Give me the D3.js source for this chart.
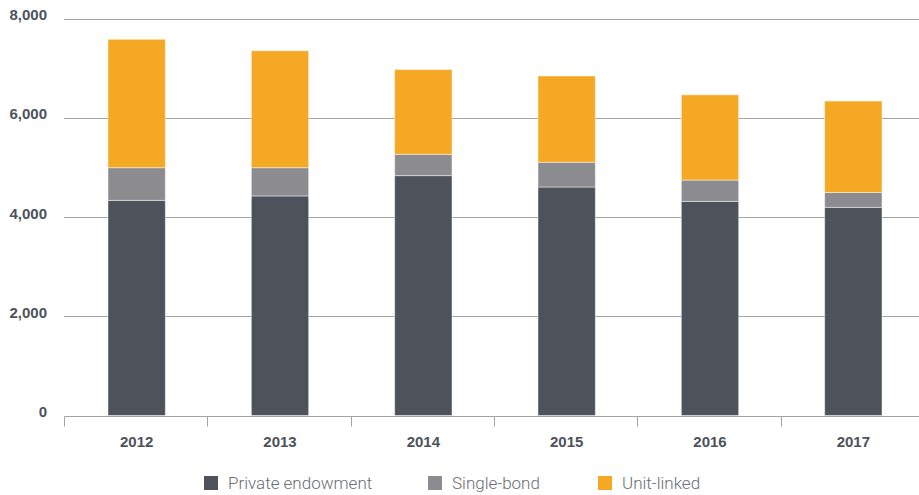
<!DOCTYPE html>
<html>
<head>
<meta charset="utf-8">
<script src="https://cdn.jsdelivr.net/npm/d3@7"></script>
<style>
  body { margin: 0; background: #fff; }
  svg text { font-family: "Liberation Sans", Arial, sans-serif; }
</style>
</head>
<body>
<div id="chart"></div>
<script>
// data
const years = ["2012", "2013", "2014", "2015", "2016", "2017"];
const privateEndowment = [4340, 4430, 4840, 4610, 4320, 4200];
const singleBond = [660, 570, 430, 500, 430, 300];
const unitLinked = [2590, 2360, 1710, 1740, 1720, 1845];
const seriesNames = ["Private endowment", "Single-bond", "Unit-linked"];
const yTicks = [0, 2000, 4000, 6000, 8000];

const colors = ["#4d525b", "#8c8b90", "#f5a824"];

const width = 919, height = 495;

let svg = d3.select("#chart").append("svg")
    .attr("width", width)
    .attr("height", height);

// build rows for the stack
let rows = years.map((y, i) => ({
    year: y,
    "Private endowment": privateEndowment[i],
    "Single-bond": singleBond[i],
    "Unit-linked": unitLinked[i]
}));
let stacked = d3.stack().keys(seriesNames)(rows);

let x = d3.scaleBand()
    .domain(years)
    .range([65, 925])
    .paddingInner(0.6)
    .paddingOuter(0.3);

let y = d3.scaleLinear()
    .domain([0, 8000])
    .range([415.5, 19]);

// gridlines
svg.append("g")
    .selectAll("line")
    .data(yTicks.filter(d => d > 0))
    .join("line")
    .attr("x1", 64)
    .attr("x2", width)
    .attr("y1", d => Math.round(y(d)) + 0.5)
    .attr("y2", d => Math.round(y(d)) + 0.5)
    .attr("stroke", "#a3a3a5")
    .attr("stroke-width", 1);

// y labels
svg.append("g")
    .selectAll("text")
    .data(yTicks)
    .join("text")
    .attr("x", 47)
    .attr("y", d => y(d) - 4)
    .attr("dy", "0.35em")
    .attr("text-anchor", "end")
    .attr("font-size", 15)
    .attr("font-weight", "bold")
    .attr("fill", "#4d525b")
    .text(d => d3.format(",")(d));

// bars
svg.append("g")
    .selectAll("g")
    .data(stacked)
    .join("g")
    .attr("fill", (d, i) => colors[i])
    .selectAll("rect")
    .data(d => d)
    .join("rect")
    .attr("x", d => x(d.data.year))
    .attr("width", x.bandwidth())
    .attr("y", d => y(d[1]))
    .attr("height", d => y(d[0]) - y(d[1]))
    .attr("stroke", "rgba(255,255,255,0.45)")
    .attr("stroke-width", 1);

// x axis
let xAxis = svg.append("g")
    .attr("transform", `translate(0, ${Math.round(y(0)) + 0.5})`);
xAxis.append("line")
    .attr("x1", 64.5)
    .attr("x2", width)
    .attr("stroke", "#a3a3a5");
let step = x.step();
xAxis.selectAll("line.tick")
    .data(d3.range(0, 6))
    .join("line")
    .attr("class", "tick")
    .attr("x1", i => Math.round(65 + i * step) - 0.5)
    .attr("x2", i => Math.round(65 + i * step) - 0.5)
    .attr("y1", 0)
    .attr("y2", 10)
    .attr("stroke", "#a3a3a5");
xAxis.selectAll("text")
    .data(years)
    .join("text")
    .attr("x", d => x(d) + x.bandwidth() / 2)
    .attr("y", 25)
    .attr("dy", "0.35em")
    .attr("text-anchor", "middle")
    .attr("font-size", 15)
    .attr("font-weight", "bold")
    .attr("fill", "#4d525b")
    .text(d => d);

// legend
const legendX = [204, 428, 598];
let legend = svg.append("g")
    .selectAll("g")
    .data(seriesNames)
    .join("g")
    .attr("transform", (d, i) => `translate(${legendX[i]}, 476)`);
legend.append("rect")
    .attr("width", 14)
    .attr("height", 14)
    .attr("fill", (d, i) => colors[i]);
legend.append("text")
    .attr("x", 24)
    .attr("y", 7)
    .attr("dy", "0.35em")
    .attr("font-size", 17)
    .attr("fill", "#6b6e75")
    .style("font-family", "Roboto, sans-serif")
    .style("font-weight", 300)
    .text(d => d);
</script>
</body>
</html>
